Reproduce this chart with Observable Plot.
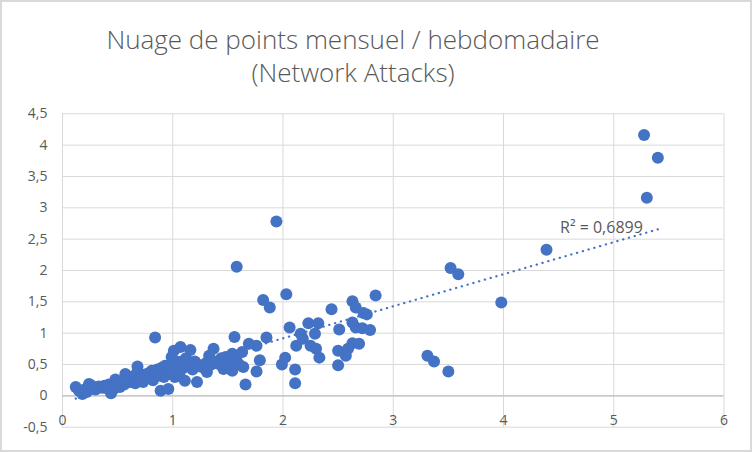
<!DOCTYPE html>
<html>
<head>
<meta charset="utf-8">
<script src="https://cdn.jsdelivr.net/npm/d3@7"></script>
<script src="https://cdn.jsdelivr.net/npm/@observablehq/plot@0.6"></script>
<style>
  body { margin: 0; background: #fff; }
  #chart { position: relative; width: 752px; height: 452px; background: #fff; overflow: hidden; }
  #border { position: absolute; inset: 0; border: 2px solid #d9d9d9; box-sizing: border-box; pointer-events: none; z-index: 3; }
  .tline { position: absolute; left: 0; width: 706px; height: 30px; text-align: center; white-space: nowrap;
           font-family: "Open Sans", sans-serif; font-weight: 300; font-size: 26px; line-height: 30px; color: #595959; }
  #plot { position: absolute; left: 0; top: 100px; }
</style>
</head>
<body>
<div id="chart">
  <div id="border"></div>
  <div class="tline" style="top:24px">Nuage de points mensuel / hebdomadaire</div>
  <div class="tline" style="top:57px">(Network Attacks)</div>
  <div id="plot"></div>
</div>
<script>
// Monthly (x) vs weekly (y) values
const monthly = [
  0.12,0.15,0.18,0.20,0.22,0.24,0.26,0.28,0.30,0.33,0.36,0.38,0.40,0.42,0.44,0.46,0.48,0.50,0.52,0.54,
  0.56,0.57,0.58,0.60,0.62,0.63,0.65,0.66,0.68,0.68,0.70,0.72,0.73,0.75,0.76,0.78,0.80,0.81,0.82,0.84,
  0.85,0.86,0.87,0.89,0.90,0.90,0.92,0.93,0.95,0.96,0.97,0.98,0.99,1.00,1.01,1.02,1.03,1.04,1.05,1.06,
  1.07,1.08,1.10,1.11,1.12,1.14,1.16,1.18,1.20,1.22,1.22,1.25,1.28,1.30,1.31,1.33,1.35,1.37,1.40,1.42,
  1.44,1.46,1.48,1.50,1.52,1.52,1.54,1.54,1.56,1.58,1.60,
  1.58,1.63,1.64,1.66,1.69,1.76,1.76,1.79,1.82,1.88,1.85,1.94,1.99,2.02,2.03,2.06,2.11,2.11,2.12,2.16,
  2.18,2.23,2.25,2.29,2.30,2.32,2.33,2.44,2.50,2.50,2.51,2.57,2.59,2.63,2.63,2.63,2.66,2.66,2.69,2.72,
  2.73,2.76,2.79,2.84,3.31,3.37,3.50,3.52,3.59,3.98,4.39,5.275,5.30,5.40
];
const weekly = [
  0.14,0.08,0.03,0.10,0.06,0.19,0.17,0.12,0.10,0.15,0.13,0.16,0.12,0.18,0.04,0.10,0.26,0.20,0.14,0.22,
  0.18,0.35,0.25,0.30,0.22,0.28,0.32,0.20,0.47,0.38,0.26,0.30,0.22,0.34,0.28,0.36,0.30,0.40,0.25,0.93,
  0.36,0.42,0.32,0.08,0.38,0.45,0.30,0.48,0.40,0.11,0.35,0.50,0.62,0.44,0.72,0.30,0.55,0.40,0.48,0.35,
  0.78,0.55,0.45,0.24,0.60,0.50,0.73,0.42,0.55,0.22,0.51,0.47,0.45,0.52,0.38,0.64,0.50,0.75,0.55,0.51,
  0.60,0.43,0.62,0.50,0.43,0.62,0.67,0.40,0.94,0.56,0.50,
  2.06,0.70,0.46,0.18,0.83,0.80,0.39,0.57,1.53,1.41,0.93,2.78,0.50,0.61,1.62,1.09,0.42,0.20,0.80,0.99,
  0.91,1.16,0.80,0.99,0.75,1.16,0.61,1.38,0.72,0.49,1.06,0.64,0.75,1.51,1.17,0.84,1.41,1.09,0.83,1.08,
  1.32,1.30,1.05,1.60,0.64,0.55,0.39,2.04,1.94,1.49,2.33,4.16,3.16,3.80
];
const xTicks = [0, 1, 2, 3, 4, 5, 6];
const yTicks = [-0.5, 0, 0.5, 1, 1.5, 2, 2.5, 3, 3.5, 4, 4.5];
const r2Label = "R² = 0,6899";

const points = monthly.map((x, i) => ({x, y: weekly[i]}));
const fmt = d => String(d).replace(".", ",");

// least-squares line, to anchor the R² label at the end of the trendline
const mx = d3.mean(points, d => d.x), my = d3.mean(points, d => d.y);
const slope = d3.sum(points, d => (d.x - mx) * (d.y - my)) / d3.sum(points, d => (d.x - mx) ** 2);
const xMax = d3.max(points, d => d.x);
const labelAnchor = [{x: xMax, y: my + slope * (xMax - mx)}];

const blue = "#4472C4";
const chart = Plot.plot({
  width: 752,
  height: 352,
  marginLeft: 62,
  marginRight: 28.5,
  marginTop: 13.3,
  marginBottom: 25.3,
  style: {fontFamily: "'Open Sans', sans-serif", fontSize: "14px", color: "#595959", background: "transparent"},
  x: {domain: [0, 6]},
  y: {domain: [-0.5, 4.5]},
  marks: [
    Plot.gridY(yTicks, {stroke: "#d9d9d9", strokeOpacity: 1}),
    Plot.gridX(xTicks, {stroke: "#d9d9d9", strokeOpacity: 1}),
    Plot.ruleY([0], {stroke: "#bfbfbf", strokeWidth: 1.3}),
    Plot.axisY(yTicks, {tickSize: 0, tickPadding: 15, tickFormat: fmt, label: null, fontSize: 14}),
    Plot.axisX([], {label: null, tickSize: 0}),
    Plot.text(xTicks, {x: d => d, y: 0, dy: 25, text: fmt, fill: "#595959", fontSize: 14}),
    Plot.dot(points, {x: "x", y: "y", r: 6, fill: blue, stroke: "none"}),
    Plot.linearRegressionY(points, {x: "x", y: "y", ci: 0, stroke: blue, strokeWidth: 2.2,
      strokeDasharray: "0.3,5.7", strokeLinecap: "round"}),
    Plot.text(labelAnchor, {x: "x", y: "y", text: () => r2Label, textAnchor: "end", dx: -15, dy: -1,
      fill: "#595959", fontSize: 16})
  ]
});
document.getElementById("plot").appendChild(chart);
</script>
</body>
</html>
